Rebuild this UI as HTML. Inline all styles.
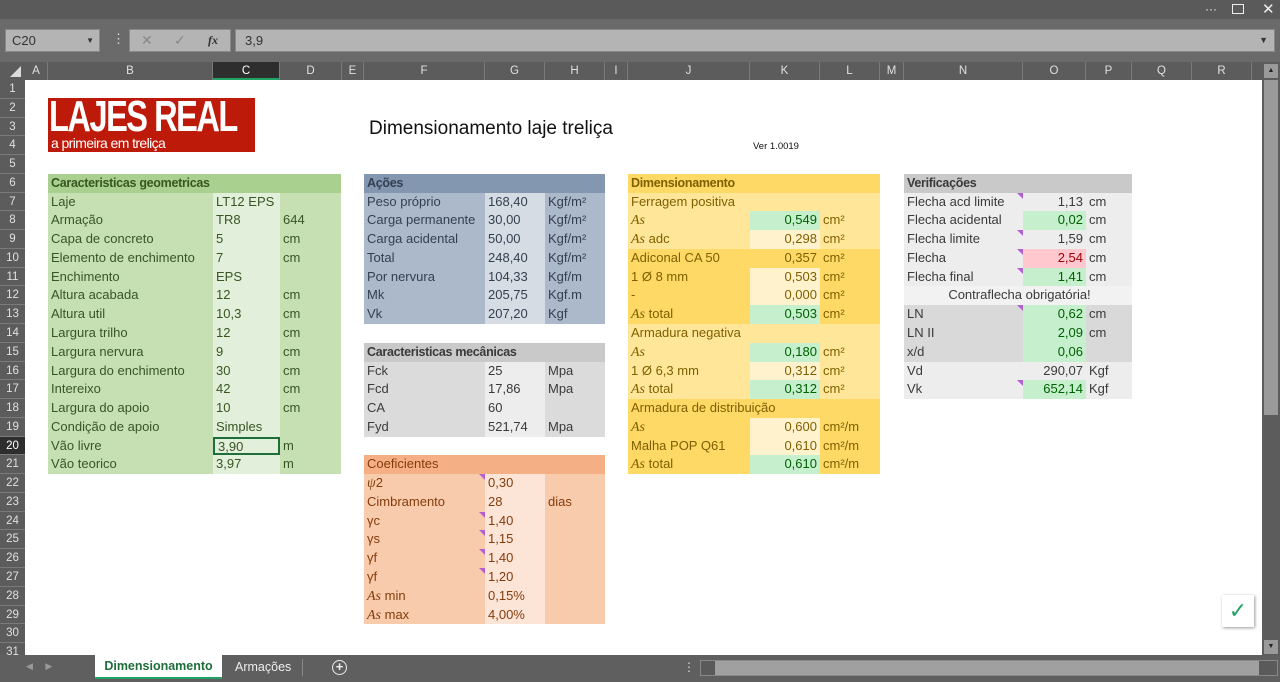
<!DOCTYPE html>
<html><head><meta charset="utf-8"><style>
*{margin:0;padding:0;box-sizing:border-box}
body{width:1280px;height:682px;overflow:hidden;background:#636363;font-family:"Liberation Sans",sans-serif;position:relative}
.a{position:absolute}
.t{position:absolute;font-size:13px}
.r{display:flex;height:18.77px;line-height:18.77px;white-space:nowrap}
.r span{display:block;overflow:visible;padding-left:3px;position:relative}
.rt{text-align:right;padding-right:3px!important}
.h{font-weight:bold;font-size:12.5px;letter-spacing:-0.3px}
i.m{font-family:"Liberation Serif",serif;font-style:italic;font-size:14px}
.cm{position:absolute;right:0;top:0;width:0;height:0;border-top:6px solid #b35fd6;border-left:6px solid transparent}
.rh{position:absolute;left:0;width:25px;height:18.77px;line-height:18.77px;text-align:center;font-size:11.5px;color:#e0e0e0;border-bottom:1px solid #7a7a7a;background:#5c5c5c}
.ch{position:absolute;top:62px;height:18px;line-height:18px;text-align:center;font-size:11.5px;color:#e0e0e0;border-right:1px solid #7a7a7a;background:#5c5c5c}
</style></head><body>
<div class="a" style="left:0;top:0;width:1280px;height:19px;background:#5a5a5a"></div>
<div class="a" style="left:1205px;top:2px;color:#eee;font-size:12px">···</div>
<div class="a" style="left:1232px;top:4px;width:12px;height:10px;border:1px solid #eee"></div>
<div class="a" style="left:1262px;top:0px;color:#eee;font-size:15px">✕</div>
<div class="a" style="left:0;top:19px;width:1280px;height:43px;background:#6a6a6a"></div>
<div class="a" style="left:5px;top:29px;width:95px;height:23px;background:#b4b4b4;border:1px solid #888;font-size:13px;line-height:21px;padding-left:6px;color:#333">C20<span style="position:absolute;right:5px;font-size:8px">▼</span></div>
<div class="a" style="left:112px;top:31px;color:#ddd;font-size:13px">⋮</div>
<div class="a" style="left:129px;top:29px;width:102px;height:23px;background:#b4b4b4;border:1px solid #888;font-size:14px;line-height:21px;color:#888"><span style="position:absolute;left:11px">✕</span><span style="position:absolute;left:44px">✓</span><span style="position:absolute;left:78px;color:#333;font-family:'Liberation Serif';font-style:italic;font-weight:bold;font-size:12px">fx</span></div>
<div class="a" style="left:235px;top:29px;width:1040px;height:23px;background:#b4b4b4;border:1px solid #888;font-size:13px;line-height:21px;padding-left:9px;color:#333">3,9<span style="position:absolute;right:6px;font-size:9px">▼</span></div>
<div class="a" style="left:0;top:62px;width:1262px;height:18px;background:#5c5c5c"></div>
<div class="a" style="left:10px;top:66px;width:0;height:0;border-bottom:11px solid #ddd;border-left:11px solid transparent"></div>
<div class="ch" style="left:25px;width:23px">A</div>
<div class="ch" style="left:48px;width:165px">B</div>
<div class="ch" style="left:213px;width:67px;background:#2e2e2e;border-bottom:2px solid #21a366;color:#fff">C</div>
<div class="ch" style="left:280px;width:62px">D</div>
<div class="ch" style="left:342px;width:22px">E</div>
<div class="ch" style="left:364px;width:121px">F</div>
<div class="ch" style="left:485px;width:60px">G</div>
<div class="ch" style="left:545px;width:60px">H</div>
<div class="ch" style="left:605px;width:23px">I</div>
<div class="ch" style="left:628px;width:122px">J</div>
<div class="ch" style="left:750px;width:70px">K</div>
<div class="ch" style="left:820px;width:60px">L</div>
<div class="ch" style="left:880px;width:24px">M</div>
<div class="ch" style="left:904px;width:119px">N</div>
<div class="ch" style="left:1023px;width:63px">O</div>
<div class="ch" style="left:1086px;width:46px">P</div>
<div class="ch" style="left:1132px;width:60px">Q</div>
<div class="ch" style="left:1192px;width:60px">R</div>
<div class="a" style="left:0;top:80px;width:25px;height:575px;background:#5c5c5c"></div>
<div class="a" style="left:0;top:80px">
<div class="rh" style="top:0">1</div><div class="rh" style="top:18.77px">2</div><div class="rh" style="top:37.54px">3</div><div class="rh" style="top:56.31px">4</div><div class="rh" style="top:75.08px">5</div><div class="rh" style="top:93.85px">6</div><div class="rh" style="top:112.62px">7</div><div class="rh" style="top:131.39px">8</div><div class="rh" style="top:150.16px">9</div><div class="rh" style="top:168.93px">10</div><div class="rh" style="top:187.7px">11</div><div class="rh" style="top:206.47px">12</div><div class="rh" style="top:225.24px">13</div><div class="rh" style="top:244.01px">14</div><div class="rh" style="top:262.78px">15</div><div class="rh" style="top:281.55px">16</div><div class="rh" style="top:300.32px">17</div><div class="rh" style="top:319.09px">18</div><div class="rh" style="top:337.86px">19</div><div class="rh" style="top:356.63px;background:#2e2e2e;color:#fff">20</div><div class="rh" style="top:375.4px">21</div><div class="rh" style="top:394.17px">22</div><div class="rh" style="top:412.94px">23</div><div class="rh" style="top:431.71px">24</div><div class="rh" style="top:450.48px">25</div><div class="rh" style="top:469.25px">26</div><div class="rh" style="top:488.02px">27</div><div class="rh" style="top:506.79px">28</div><div class="rh" style="top:525.56px">29</div><div class="rh" style="top:544.33px">30</div><div class="rh" style="top:563.1px">31</div>
</div>
<div class="a" style="left:25px;top:80px;width:1237px;height:575px;background:#fff"></div>
<div class="a" style="left:1262px;top:62px;width:18px;height:593px;background:#5c5c5c"></div>
<div class="a" style="left:1264px;top:64px;width:14px;height:14px;background:#9a9a9a;color:#222;font-size:7px;text-align:center;line-height:14px">▲</div>
<div class="a" style="left:1264px;top:80px;width:14px;height:335px;background:#9a9a9a"></div>
<div class="a" style="left:1264px;top:640px;width:14px;height:14px;background:#9a9a9a;color:#222;font-size:7px;text-align:center;line-height:14px">▼</div>
<!-- logo -->
<div class="a" style="left:48px;top:98px;width:207px;height:54px;background:#be1a0a;color:#fff;overflow:hidden;white-space:nowrap">
<div class="a" style="left:1px;top:-3px;font-size:44px;font-weight:bold;letter-spacing:-2px;transform:scaleX(0.74);transform-origin:left;line-height:44px">LAJES REAL</div>
<div class="a" style="left:3px;top:37px;font-size:14px;letter-spacing:-0.6px;line-height:16px">a primeira em treliça</div>
</div>
<div class="a" style="left:369px;top:118px;font-size:19px;color:#111">Dimensionamento laje treliça</div>
<div class="a" style="left:753px;top:141px;font-size:9.5px;color:#111">Ver 1.0019</div>

<div class="t" style="left:48px;top:173.9px;color:#375623">
<div class="r" style="background:#a9d08e"><span class="h" style="width:293px">Caracteristicas geometricas</span></div>
<div style="background:#c6e0b4">
<div class="r"><span style="width:165px">Laje</span><span style="width:67px;background:#e2efda">LT12 EPS</span><span style="width:61px"></span></div>
<div class="r"><span style="width:165px">Armação</span><span style="width:67px;background:#e2efda">TR8</span><span style="width:61px">644</span></div>
<div class="r"><span style="width:165px">Capa de concreto</span><span style="width:67px;background:#e2efda">5</span><span style="width:61px">cm</span></div>
<div class="r"><span style="width:165px">Elemento de enchimento</span><span style="width:67px;background:#e2efda">7</span><span style="width:61px">cm</span></div>
<div class="r"><span style="width:165px">Enchimento</span><span style="width:67px;background:#e2efda">EPS</span><span style="width:61px"></span></div>
<div class="r"><span style="width:165px">Altura acabada</span><span style="width:67px;background:#e2efda">12</span><span style="width:61px">cm</span></div>
<div class="r"><span style="width:165px">Altura util</span><span style="width:67px;background:#e2efda">10,3</span><span style="width:61px">cm</span></div>
<div class="r"><span style="width:165px">Largura trilho</span><span style="width:67px;background:#e2efda">12</span><span style="width:61px">cm</span></div>
<div class="r"><span style="width:165px">Largura nervura</span><span style="width:67px;background:#e2efda">9</span><span style="width:61px">cm</span></div>
<div class="r"><span style="width:165px">Largura do enchimento</span><span style="width:67px;background:#e2efda">30</span><span style="width:61px">cm</span></div>
<div class="r"><span style="width:165px">Intereixo</span><span style="width:67px;background:#e2efda">42</span><span style="width:61px">cm</span></div>
<div class="r"><span style="width:165px">Largura do apoio</span><span style="width:67px;background:#e2efda">10</span><span style="width:61px">cm</span></div>
<div class="r"><span style="width:165px">Condição de apoio</span><span style="width:67px;background:#e2efda">Simples</span><span style="width:61px"></span></div>
<div class="r"><span style="width:165px">Vão livre</span><span style="width:67px;background:#e2efda;border:2px solid #1e6e3a;line-height:15px">3,90</span><span style="width:61px">m</span></div>
<div class="r"><span style="width:165px">Vão teorico</span><span style="width:67px;background:#e2efda">3,97</span><span style="width:61px">m</span></div>
</div></div>

<div class="t" style="left:364px;top:173.9px;color:#333f4f">
<div class="r" style="background:#8497b0"><span class="h" style="width:241px">Ações</span></div>
<div style="background:#acb9ca">
<div class="r"><span style="width:121px">Peso próprio</span><span style="width:60px;background:#d6dce4">168,40</span><span style="width:60px">Kgf/m²</span></div>
<div class="r"><span style="width:121px">Carga permanente</span><span style="width:60px;background:#d6dce4">30,00</span><span style="width:60px">Kgf/m²</span></div>
<div class="r"><span style="width:121px">Carga acidental</span><span style="width:60px;background:#d6dce4">50,00</span><span style="width:60px">Kgf/m²</span></div>
<div class="r"><span style="width:121px">Total</span><span style="width:60px;background:#d6dce4">248,40</span><span style="width:60px">Kgf/m²</span></div>
<div class="r"><span style="width:121px">Por nervura</span><span style="width:60px;background:#d6dce4">104,33</span><span style="width:60px">Kgf/m</span></div>
<div class="r"><span style="width:121px">Mk</span><span style="width:60px;background:#d6dce4">205,75</span><span style="width:60px">Kgf.m</span></div>
<div class="r"><span style="width:121px">Vk</span><span style="width:60px;background:#d6dce4">207,20</span><span style="width:60px">Kgf</span></div>
</div></div>

<div class="t" style="left:364px;top:342.8px;color:#3a3a3a">
<div class="r" style="background:#c9c9c9"><span class="h" style="width:241px">Caracteristicas mecânicas</span></div>
<div style="background:#dbdbdb">
<div class="r"><span style="width:121px">Fck</span><span style="width:60px;background:#ededed">25</span><span style="width:60px">Mpa</span></div>
<div class="r"><span style="width:121px">Fcd</span><span style="width:60px;background:#ededed">17,86</span><span style="width:60px">Mpa</span></div>
<div class="r"><span style="width:121px">CA</span><span style="width:60px;background:#ededed">60</span><span style="width:60px"></span></div>
<div class="r"><span style="width:121px">Fyd</span><span style="width:60px;background:#ededed">521,74</span><span style="width:60px">Mpa</span></div>
</div></div>

<div class="t" style="left:364px;top:455.4px;color:#843c0c">
<div class="r" style="background:#f4b084"><span style="width:241px">Coeficientes</span></div>
<div style="background:#f8cbad">
<div class="r"><span style="width:121px"><i class="m">ψ</i>2<b class="cm"></b></span><span style="width:60px;background:#fce4d6">0,30</span><span style="width:60px"></span></div>
<div class="r"><span style="width:121px">Cimbramento</span><span style="width:60px;background:#fce4d6">28</span><span style="width:60px">dias</span></div>
<div class="r"><span style="width:121px">γc<b class="cm"></b></span><span style="width:60px;background:#fce4d6">1,40</span><span style="width:60px"></span></div>
<div class="r"><span style="width:121px">γs<b class="cm"></b></span><span style="width:60px;background:#fce4d6">1,15</span><span style="width:60px"></span></div>
<div class="r"><span style="width:121px">γf<b class="cm"></b></span><span style="width:60px;background:#fce4d6">1,40</span><span style="width:60px"></span></div>
<div class="r"><span style="width:121px">γf<b class="cm"></b></span><span style="width:60px;background:#fce4d6">1,20</span><span style="width:60px"></span></div>
<div class="r"><span style="width:121px"><i class="m">As</i> min</span><span style="width:60px;background:#fce4d6">0,15%</span><span style="width:60px"></span></div>
<div class="r"><span style="width:121px"><i class="m">As</i> max</span><span style="width:60px;background:#fce4d6">4,00%</span><span style="width:60px"></span></div>
</div></div>

<div class="t" style="left:628px;top:173.9px;color:#7f6000">
<div class="r" style="background:#ffd966"><span class="h" style="width:252px">Dimensionamento</span></div>
<div style="background:#ffe699">
<div class="r"><span style="width:252px">Ferragem positiva</span></div>
<div class="r"><span style="width:122px"><i class="m">As</i></span><span class="rt" style="width:70px;background:#c6efce;color:#006100">0,549</span><span style="width:60px">cm²</span></div>
<div class="r"><span style="width:122px"><i class="m">As</i> adc</span><span class="rt" style="width:70px;background:#fff2cc">0,298</span><span style="width:60px">cm²</span></div>
</div>
<div style="background:#ffd966">
<div class="r"><span style="width:122px">Adiconal CA 50</span><span class="rt" style="width:70px">0,357</span><span style="width:60px">cm²</span></div>
<div class="r"><span style="width:122px">1 Ø 8 mm</span><span class="rt" style="width:70px;background:#fff2cc">0,503</span><span style="width:60px">cm²</span></div>
<div class="r"><span style="width:122px">-</span><span class="rt" style="width:70px;background:#fff2cc">0,000</span><span style="width:60px">cm²</span></div>
<div class="r"><span style="width:122px"><i class="m">As</i> total</span><span class="rt" style="width:70px;background:#c6efce;color:#006100">0,503</span><span style="width:60px">cm²</span></div>
</div>
<div style="background:#ffe699">
<div class="r"><span style="width:252px">Armadura negativa</span></div>
<div class="r"><span style="width:122px"><i class="m">As</i></span><span class="rt" style="width:70px;background:#c6efce;color:#006100">0,180</span><span style="width:60px">cm²</span></div>
<div class="r"><span style="width:122px">1 Ø 6,3 mm</span><span class="rt" style="width:70px;background:#fff2cc">0,312</span><span style="width:60px">cm²</span></div>
<div class="r"><span style="width:122px"><i class="m">As</i> total</span><span class="rt" style="width:70px;background:#c6efce;color:#006100">0,312</span><span style="width:60px">cm²</span></div>
</div>
<div style="background:#ffd966">
<div class="r"><span style="width:252px">Armadura de distribuição</span></div>
<div class="r"><span style="width:122px"><i class="m">As</i></span><span class="rt" style="width:70px;background:#fff2cc">0,600</span><span style="width:60px">cm²/m</span></div>
<div class="r"><span style="width:122px">Malha POP Q61</span><span class="rt" style="width:70px;background:#fff2cc">0,610</span><span style="width:60px">cm²/m</span></div>
<div class="r"><span style="width:122px"><i class="m">As</i> total</span><span class="rt" style="width:70px;background:#c6efce;color:#006100">0,610</span><span style="width:60px">cm²/m</span></div>
</div></div>

<div class="t" style="left:904px;top:173.9px;color:#3a3a3a">
<div class="r" style="background:#c9c9c9"><span class="h" style="width:228px">Verificações</span></div>
<div style="background:#ededed">
<div class="r"><span style="width:119px">Flecha acd limite<b class="cm"></b></span><span class="rt" style="width:63px">1,13</span><span style="width:46px">cm</span></div>
<div class="r"><span style="width:119px">Flecha acidental</span><span class="rt" style="width:63px;background:#c6efce;color:#006100">0,02</span><span style="width:46px">cm</span></div>
<div class="r"><span style="width:119px">Flecha limite<b class="cm"></b></span><span class="rt" style="width:63px">1,59</span><span style="width:46px">cm</span></div>
<div class="r"><span style="width:119px">Flecha<b class="cm"></b></span><span class="rt" style="width:63px;background:#ffc7ce;color:#9c0006">2,54</span><span style="width:46px">cm</span></div>
<div class="r"><span style="width:119px">Flecha final<b class="cm"></b></span><span class="rt" style="width:63px;background:#c6efce;color:#006100">1,41</span><span style="width:46px">cm</span></div>
<div class="r" style="background:#f2f2f2"><span style="width:228px;text-align:center">Contraflecha obrigatória!</span></div>
</div>
<div style="background:#d9d9d9">
<div class="r"><span style="width:119px">LN<b class="cm"></b></span><span class="rt" style="width:63px;background:#c6efce;color:#006100">0,62</span><span style="width:46px">cm</span></div>
<div class="r"><span style="width:119px">LN II</span><span class="rt" style="width:63px;background:#c6efce;color:#006100">2,09</span><span style="width:46px">cm</span></div>
<div class="r"><span style="width:119px">x/d</span><span class="rt" style="width:63px;background:#c6efce;color:#006100">0,06</span><span style="width:46px"></span></div>
</div>
<div style="background:#ededed">
<div class="r"><span style="width:119px">Vd</span><span class="rt" style="width:63px">290,07</span><span style="width:46px">Kgf</span></div>
<div class="r"><span style="width:119px">Vk<b class="cm"></b></span><span class="rt" style="width:63px;background:#c6efce;color:#006100">652,14</span><span style="width:46px">Kgf</span></div>
</div></div>

<div class="a" style="left:1222px;top:595px;width:32px;height:32px;background:#fff;box-shadow:1px 1px 3px #999;color:#21a366;font-size:22px;text-align:center;line-height:32px">✓</div>
<div class="a" style="left:0;top:655px;width:1280px;height:27px;background:#5f5f5f"></div>
<div class="a" style="left:26px;top:661px;color:#999;font-size:9px">◀&nbsp;&nbsp;&nbsp;&nbsp;&nbsp;▶</div>
<div class="a" style="left:95px;top:655px;width:127px;height:24px;background:#fff;border-bottom:2px solid #21a366;color:#1e6e3a;font-weight:bold;font-size:12.5px;text-align:center;line-height:23px">Dimensionamento</div>
<div class="a" style="left:235px;top:660px;color:#eee;font-size:12.5px">Armações</div>
<div class="a" style="left:302px;top:659px;width:1px;height:17px;background:#888"></div>
<div class="a" style="left:332px;top:660px;width:15px;height:15px;border:1.5px solid #eee;border-radius:50%;color:#eee;font-size:13px;line-height:11px;text-align:center;font-weight:bold">+</div>
<div class="a" style="left:683px;top:660px;color:#ddd;font-size:12px">⋮</div>
<div class="a" style="left:700px;top:660px;width:578px;height:16px;background:#5a5a5a;border:1px solid #888"></div>
<div class="a" style="left:715px;top:661px;width:544px;height:14px;background:#a0a0a0"></div>
</body></html>
